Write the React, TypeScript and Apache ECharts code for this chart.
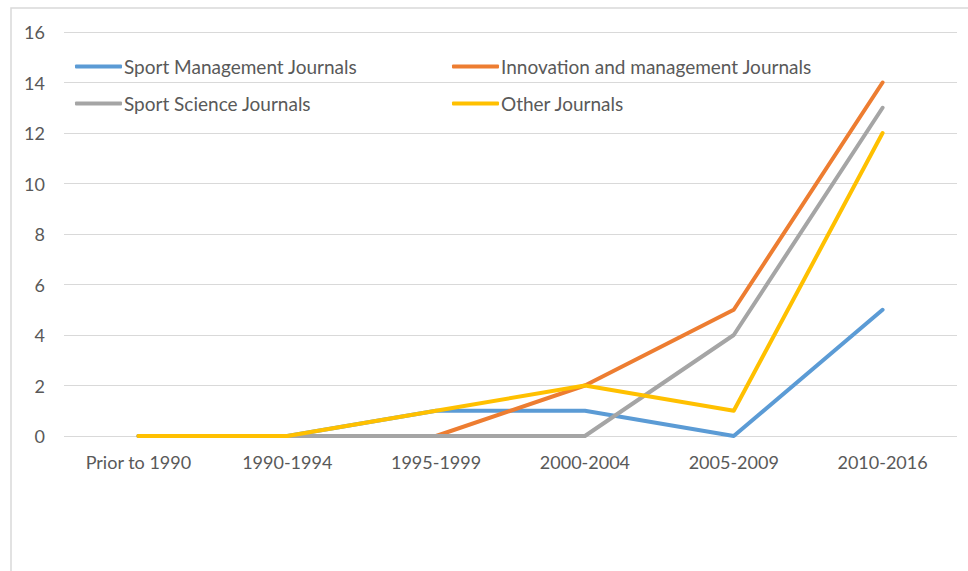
import React, { useEffect, useRef } from "react";
import * as echarts from "echarts";

const categories = ["Prior to 1990", "1990-1994", "1995-1999", "2000-2004", "2005-2009", "2010-2016"];
const sportManagement = [0, 0, 1, 1, 0, 5];
const innovationManagement = [null, null, 0, 2, 5, 14];
const sportScience = [0, 0, 0, 0, 4, 13];
const otherJournals = [0, 0, 1, 2, 1, 12];
const seriesNames = [
  "Sport Management Journals",
  "Innovation and management Journals",
  "Sport Science Journals",
  "Other Journals",
];
const colors = ["#5B9BD5", "#ED7D31", "#A5A5A5", "#FFC000"];

const FONT = "Lato";
const TEXT = "#595959";

export default function App() {
  const ref = useRef<HTMLDivElement>(null);
  useEffect(() => {
    if (!ref.current) return;
    const chart = echarts.init(ref.current, undefined, { renderer: "svg" });
    const data = [sportManagement, innovationManagement, sportScience, otherJournals];
    const legendPos = [
      { left: 75, top: 57 },
      { left: 452, top: 57 },
      { left: 75, top: 94 },
      { left: 452, top: 94 },
    ];
    chart.setOption({
      animation: false,
      backgroundColor: "#ffffff",
      color: colors,
      textStyle: { fontFamily: FONT },
      grid: { left: 64, right: 11, top: 32, bottom: 135 },
      legend: seriesNames.map((n, i) => ({
        data: [n],
        left: legendPos[i].left,
        top: legendPos[i].top,
        icon: "roundRect",
        itemWidth: 47,
        itemHeight: 4,
        itemGap: 2,
        padding: 0,
        textStyle: { color: TEXT, fontSize: 19, fontFamily: FONT, padding: [0, 0, 0, -3] },
      })),
      xAxis: {
        type: "category",
        data: categories,
        boundaryGap: true,
        axisLine: { show: false },
        axisTick: { show: false },
        axisLabel: { color: TEXT, fontSize: 18, fontFamily: FONT, margin: 17 },
      },
      yAxis: {
        type: "value",
        min: 0,
        max: 16,
        interval: 2,
        axisLine: { show: false },
        axisTick: { show: false },
        splitLine: { lineStyle: { color: "#D9D9D9", width: 1 } },
        axisLabel: { color: TEXT, fontSize: 18, fontFamily: FONT, margin: 19 },
      },
      graphic: [
        {
          type: "polyline",
          shape: { points: [[11, 600], [11, 8], [1000, 8]] },
          style: { stroke: "#D9D9D9", fill: null, lineWidth: 1.5 },
          silent: true,
        },
      ],
      series: seriesNames.map((n, i) => ({
        name: n,
        type: "line",
        data: data[i],
        symbol: "none",
        lineStyle: { width: 4, color: colors[i], cap: "round", join: "round" },
        itemStyle: { color: colors[i] },
      })),
    });
    return () => chart.dispose();
  }, []);
  return (
    <div
      ref={ref}
      style={{ position: "fixed", left: 0, top: 0, width: 968, height: 571 }}
    />
  );
}
